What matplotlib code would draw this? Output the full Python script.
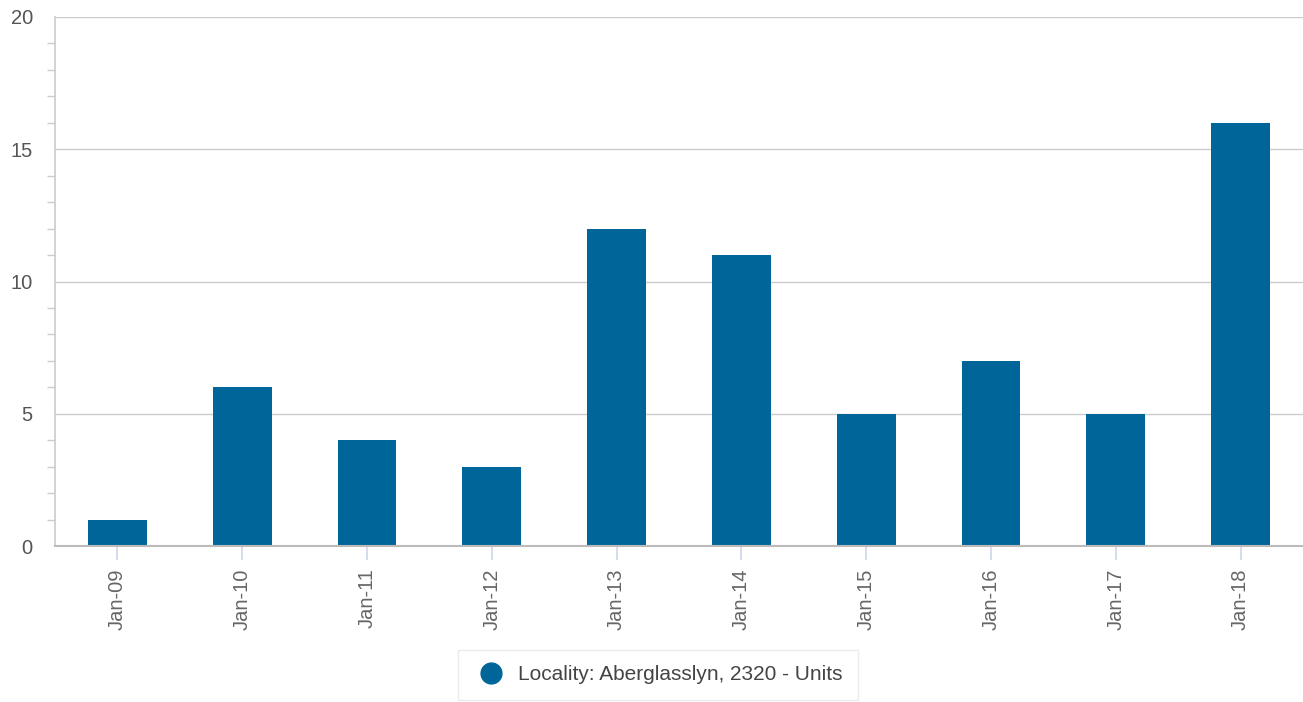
import matplotlib
matplotlib.use("Agg")
import matplotlib.pyplot as plt
from matplotlib.ticker import MultipleLocator
from matplotlib.lines import Line2D

categories = ["Jan-09", "Jan-10", "Jan-11", "Jan-12", "Jan-13",
              "Jan-14", "Jan-15", "Jan-16", "Jan-17", "Jan-18"]
values = [1, 6, 4, 3, 12, 11, 5, 7, 5, 16]
series_name = "Locality: Aberglasslyn, 2320 - Units"
yticks = [0, 5, 10, 15, 20]

plt.rcParams['font.family'] = ['Liberation Sans', 'DejaVu Sans']

W, H = 1303, 702
fig = plt.figure(figsize=(W / 100, H / 100), dpi=100)
ax = fig.add_axes([55 / W, 1 - 546 / H, (1303 - 55) / W, (546 - 17) / H])

color = "#006699"
x = list(range(len(categories)))
ax.bar(x, values, width=0.47, color=color, zorder=3)

ax.set_xlim(-0.5, len(categories) - 0.5)
ax.set_ylim(0, 20)
ax.set_yticks(yticks)
ax.set_yticklabels([str(v) for v in yticks])
ax.yaxis.set_minor_locator(MultipleLocator(1))
ax.set_xticks(x)
ax.set_xticklabels(categories, rotation=90)

ax.grid(axis='y', color='#cccccc', linewidth=1, zorder=0)
for s in ['top', 'right']:
    ax.spines[s].set_visible(False)
ax.spines['left'].set_color('#cccccc')
ax.spines['left'].set_linewidth(1.2)
ax.spines['bottom'].set_color('#bbbbbb')
ax.spines['bottom'].set_linewidth(1.5)
ax.spines['bottom'].set_zorder(4)

ax.tick_params(axis='y', which='major', length=0, labelsize=14.5,
               labelcolor='#555555', pad=16)
ax.tick_params(axis='y', which='minor', length=6, color='#cccccc', width=1)
ax.tick_params(axis='x', length=10, color='#ccd6eb', width=1.2,
               labelsize=14.5, labelcolor='#666666', pad=6)

handle = Line2D([], [], marker='o', linestyle='none', markersize=15,
                markerfacecolor=color, markeredgecolor=color)
leg = fig.legend([handle], [series_name], loc='center',
                 bbox_to_anchor=(658 / W, 1 - 675 / H), frameon=True,
                 fontsize=15, handletextpad=0.5, borderpad=0.75,
                 handlelength=1.6, fancybox=False, labelcolor='#444444')
leg.get_frame().set_edgecolor('#e6e6e6')
leg.get_frame().set_linewidth(1)

fig.savefig("out.png", dpi=100)
